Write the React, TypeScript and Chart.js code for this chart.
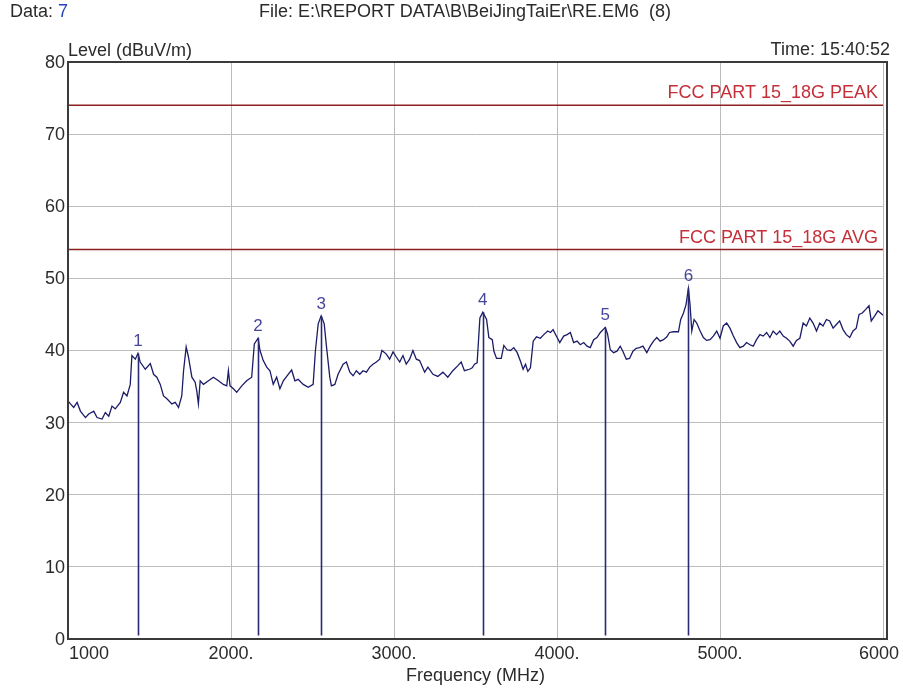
import React, { useEffect, useRef } from 'react';
import { Chart, registerables } from 'chart.js';

Chart.register(...registerables);

// ---- Data ----
const traceFreq = [
  1000, 1015, 1035, 1056, 1076, 1107, 1127, 1158, 1178, 1209, 1229, 1250, 1270, 1290, 1321, 1341, 1362, 1382, 1392, 1413,
  1429, 1443, 1474, 1505, 1525, 1545, 1566, 1586, 1607, 1637, 1658, 1678, 1698, 1709, 1725, 1739, 1760, 1780, 1790, 1800,
  1811, 1831, 1862, 1892, 1923, 1953, 1974, 1984, 1994, 2015, 2035, 2066, 2096, 2127, 2143, 2166, 2178, 2198, 2219, 2239,
  2259, 2280, 2300, 2321, 2351, 2372, 2392, 2412, 2443, 2474, 2504, 2518, 2535, 2553, 2572, 2586, 2606, 2616, 2637, 2657,
  2688, 2708, 2729, 2749, 2769, 2790, 2810, 2831, 2851, 2871, 2892, 2912, 2926, 2953, 2973, 2994, 3014, 3035, 3055, 3075,
  3096, 3116, 3137, 3157, 3188, 3208, 3239, 3269, 3300, 3330, 3361, 3392, 3412, 3432, 3463, 3480, 3494, 3510, 3527, 3545,
  3568, 3582, 3603, 3613, 3629, 3658, 3674, 3694, 3715, 3735, 3756, 3776, 3792, 3807, 3821, 3837, 3854, 3874, 3898, 3919,
  3943, 3960, 3976, 3996, 4017, 4041, 4062, 4082, 4102, 4123, 4143, 4164, 4184, 4204, 4225, 4245, 4266, 4296, 4310, 4327,
  4347, 4368, 4388, 4404, 4425, 4445, 4466, 4486, 4506, 4527, 4551, 4572, 4592, 4612, 4633, 4653, 4674, 4690, 4714, 4745,
  4759, 4776, 4792, 4806, 4816, 4827, 4841, 4857, 4878, 4898, 4918, 4939, 4959, 4980, 5000, 5020, 5041, 5061, 5082, 5102,
  5122, 5143, 5163, 5184, 5204, 5224, 5245, 5265, 5286, 5306, 5326, 5347, 5367, 5388, 5408, 5428, 5449, 5469, 5490, 5510,
  5530, 5551, 5571, 5592, 5612, 5632, 5653, 5673, 5694, 5714, 5734, 5755, 5775, 5796, 5816, 5836, 5853, 5873, 5894, 5914,
  5928, 5949, 5969, 6000,
];
const traceLevel = [
  33.0, 32.6, 32.1, 32.8, 31.6, 30.7, 31.2, 31.6, 30.7, 30.5, 31.4, 30.9, 32.3, 31.9, 32.8, 34.2, 33.7, 35.3, 39.3, 38.8,
  39.6, 38.4, 37.4, 38.2, 36.7, 36.3, 35.3, 33.7, 33.3, 32.6, 32.8, 32.1, 33.7, 37.2, 40.5, 39.1, 36.3, 35.6, 34.4, 32.6,
  35.8, 35.3, 35.8, 36.3, 35.8, 35.3, 35.1, 37.2, 35.1, 34.7, 34.2, 35.1, 35.8, 36.3, 40.9, 41.7, 40.0, 38.6, 37.7, 37.2,
  35.3, 36.3, 34.7, 35.8, 36.7, 37.3, 35.8, 36.0, 35.3, 34.9, 35.3, 40.0, 43.7, 44.8, 43.7, 40.5, 36.3, 35.1, 35.3, 36.7,
  38.1, 38.4, 37.0, 36.5, 37.2, 36.7, 37.2, 37.0, 37.7, 38.1, 38.4, 38.8, 40.0, 39.5, 38.8, 39.8, 39.1, 38.4, 39.3, 38.1,
  38.8, 40.0, 38.8, 38.6, 37.0, 37.7, 36.7, 36.4, 37.0, 36.3, 37.2, 37.9, 38.4, 37.2, 37.4, 37.6, 38.1, 38.3, 44.5, 45.3,
  44.3, 41.8, 41.5, 39.9, 38.9, 38.9, 40.7, 40.1, 40.0, 40.4, 39.7, 38.5, 37.4, 38.1, 37.1, 37.6, 41.3, 41.9, 41.7, 42.2,
  42.7, 42.5, 42.9, 42.0, 41.1, 42.0, 42.2, 42.5, 41.1, 41.3, 40.8, 41.1, 40.6, 40.4, 41.5, 41.8, 42.5, 43.2, 42.3, 40.1,
  39.7, 39.9, 40.6, 39.9, 38.8, 38.9, 39.9, 40.3, 40.4, 40.6, 39.7, 40.6, 41.3, 41.8, 41.3, 41.5, 41.9, 42.5, 42.6, 42.6,
  44.3, 45.2, 46.4, 48.6, 46.4, 42.7, 44.3, 43.8, 42.7, 41.8, 41.4, 41.5, 42.0, 42.7, 41.7, 43.4, 43.8, 43.1, 42.0, 41.1,
  40.4, 40.6, 41.1, 40.8, 40.6, 41.5, 42.2, 42.0, 42.5, 41.8, 42.7, 42.2, 42.7, 42.0, 41.7, 41.3, 40.6, 41.4, 41.7, 43.8,
  43.4, 44.5, 43.8, 42.7, 43.8, 43.4, 44.3, 44.1, 43.1, 43.6, 44.1, 42.9, 42.2, 41.8, 42.7, 43.1, 45.0, 45.2, 45.7, 46.2,
  44.1, 44.8, 45.5, 44.9,
];

const markerNo = ['1', '2', '3', '4', '5', '6'];
const markerFreq = [1429, 2166, 2553, 3545, 4296, 4806];
const markerLevel = [39.6, 41.7, 44.8, 45.3, 43.2, 48.6];

const limitNames = ['FCC PART 15_18G PEAK', 'FCC PART 15_18G AVG'];
const limitLevels = [74, 54];

const xTicks = [1000, 2000, 3000, 4000, 5000, 6000];
const xTickLabels = ['1000', '2000.', '3000.', '4000.', '5000.', '6000'];
const yTicks = [0, 10, 20, 30, 40, 50, 60, 70, 80];
const yTickLabels = ['0', '10', '20', '30', '40', '50', '60', '70', '80'];

const dataNo = '7';
const fileTitle = 'File: E:\\REPORT DATA\\B\\BeiJingTaiEr\\RE.EM6  (8)';
const timeText = 'Time: 15:40:52';
const yTitle = 'Level (dBuV/m)';
const xTitle = 'Frequency (MHz)';

const FONT = "'Liberation Sans', Arial, sans-serif";

const overlay = {
  id: 'overlay',
  beforeDraw(chart: any) {
    const { ctx, width, height } = chart;
    ctx.save();
    ctx.fillStyle = '#ffffff';
    ctx.fillRect(0, 0, width, height);
    ctx.restore();
  },
  afterDatasetsDraw(chart: any) {
    const { ctx, scales } = chart;
    const x = scales.x, y = scales.y;
    ctx.save();
    ctx.strokeStyle = '#2a2a72';
    ctx.lineWidth = 1.6;
    for (let i = 0; i < markerFreq.length; i++) {
      const px = Math.round(x.getPixelForValue(markerFreq[i])) + 0.5;
      ctx.beginPath();
      ctx.moveTo(px, y.getPixelForValue(markerLevel[i]));
      ctx.lineTo(px, y.getPixelForValue(0.5));
      ctx.stroke();
    }
    ctx.fillStyle = '#46469c';
    ctx.font = `17px ${FONT}`;
    ctx.textAlign = 'center';
    ctx.textBaseline = 'middle';
    for (let i = 0; i < markerFreq.length; i++) {
      ctx.fillText(markerNo[i], x.getPixelForValue(markerFreq[i]), y.getPixelForValue(markerLevel[i]) - 12);
    }
    // limit labels
    ctx.fillStyle = '#c4303a';
    ctx.font = `18px ${FONT}`;
    ctx.textAlign = 'right';
    ctx.textBaseline = 'alphabetic';
    for (let i = 0; i < limitLevels.length; i++) {
      ctx.fillText(limitNames[i], chart.chartArea.right - 5, y.getPixelForValue(limitLevels[i]) - 7);
    }
    ctx.restore();
  },
  afterDraw(chart: any) {
    const { ctx, chartArea: a, scales } = chart;
    const x = scales.x, y = scales.y;
    ctx.save();
    // frame
    ctx.strokeStyle = '#3a3a3a';
    ctx.lineWidth = 2;
    ctx.strokeRect(a.left, a.top, a.right + 4 - a.left, a.bottom - a.top);

    ctx.fillStyle = '#2b2b2b';
    ctx.font = `18px ${FONT}`;
    // y tick labels
    ctx.textAlign = 'right';
    ctx.textBaseline = 'middle';
    for (let i = 0; i < yTicks.length; i++) {
      ctx.fillText(yTickLabels[i], a.left - 3, y.getPixelForValue(yTicks[i]) + 1);
    }
    // x tick labels
    for (let i = 0; i < xTicks.length; i++) {
      const px = x.getPixelForValue(xTicks[i]);
      if (i === 0) {
        ctx.textAlign = 'left';
        ctx.fillText(xTickLabels[i], px + 1, a.bottom + 15);
      } else if (i === xTicks.length - 1) {
        ctx.textAlign = 'center';
        ctx.fillText(xTickLabels[i], px - 4, a.bottom + 15);
      } else {
        ctx.textAlign = 'center';
        ctx.fillText(xTickLabels[i], px, a.bottom + 15);
      }
    }
    // axis titles
    ctx.textAlign = 'center';
    ctx.fillText(xTitle, (a.left + a.right) / 2, a.bottom + 37);
    ctx.textBaseline = 'alphabetic';
    ctx.textAlign = 'left';
    ctx.fillText(yTitle, a.left, a.top - 6);
    ctx.textAlign = 'right';
    ctx.fillText(timeText, 890, a.top - 7);
    // header
    ctx.textAlign = 'left';
    ctx.fillText('Data: ', 10, 17);
    const w = ctx.measureText('Data: ').width;
    ctx.fillStyle = '#2444c4';
    ctx.fillText(dataNo, 10 + w, 17);
    ctx.fillStyle = '#2b2b2b';
    ctx.fillText(fileTitle, 259, 17);
    ctx.restore();
  },
};

export default function App() {
  const ref = useRef<HTMLCanvasElement | null>(null);
  useEffect(() => {
    if (!ref.current) return;
    const trace = traceFreq.map((f, i) => ({ x: f, y: traceLevel[i] }));
    const limits = limitLevels.map((lv) => ({
      data: [{ x: xTicks[0], y: lv }, { x: xTicks[xTicks.length - 1], y: lv }],
      borderColor: '#8e2020',
      borderWidth: 1.6,
      showLine: true,
      pointRadius: 0,
    }));
    const chart = new Chart(ref.current, {
      type: 'scatter',
      data: {
        datasets: [
          ...limits,
          {
            data: trace,
            borderColor: '#1b1b68',
            borderWidth: 1.3,
            showLine: true,
            pointRadius: 0,
            tension: 0,
          },
        ],
      },
      options: {
        animation: false,
        responsive: false,
        devicePixelRatio: 1,
        layout: { padding: { left: 68, right: 20, top: 62, bottom: 52 } },
        plugins: { legend: { display: false }, tooltip: { enabled: false } },
        scales: {
          x: {
            type: 'linear',
            min: 1000,
            max: 6000,
            afterFit: (s: any) => { s.height = 0; },
            ticks: { display: false, stepSize: 1000 },
            grid: { color: '#bcbcbc', lineWidth: 1, drawTicks: false },
            border: { display: false },
          },
          y: {
            type: 'linear',
            min: 0,
            max: 80,
            afterFit: (s: any) => { s.width = 0; },
            ticks: { display: false, stepSize: 10 },
            grid: { color: '#bcbcbc', lineWidth: 1, drawTicks: false },
            border: { display: false },
          },
        },
      } as any,
      plugins: [overlay],
    });
    return () => chart.destroy();
  }, []);
  return (
    <div style={{ position: 'fixed', left: 0, top: 0, width: 903, height: 691, background: '#fff' }}>
      <canvas ref={ref} width={903} height={691} style={{ width: 903, height: 691, display: 'block' }} />
    </div>
  );
}
